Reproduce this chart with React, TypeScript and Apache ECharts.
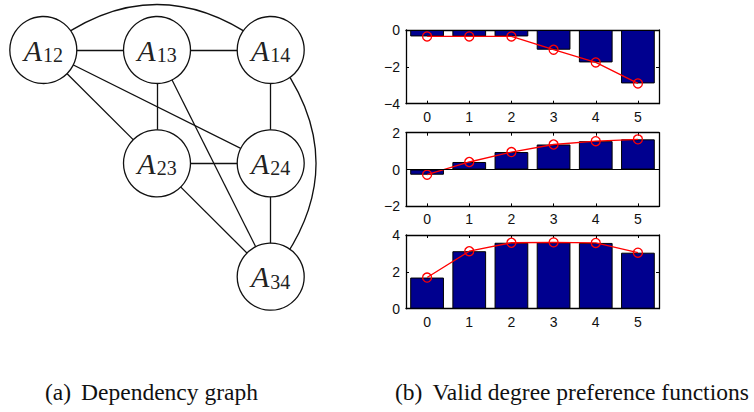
import React, { useEffect, useRef } from "react";
import * as echarts from "echarts";

// Degree preference values (three panels), degrees 0..5
const degrees = ["0", "1", "2", "3", "4", "5"];
const prefTop = [-0.35, -0.35, -0.35, -1.07, -1.76, -2.9];
const prefMid = [-0.28, 0.41, 0.95, 1.36, 1.54, 1.64];
const prefBottom = [1.69, 3.12, 3.58, 3.6, 3.57, 3.04];
const panelRanges = [
  [-4, 0],
  [-2, 2],
  [0, 4],
];

// Dependency graph: nodes on a 3x3 lattice (column, row)
const nodeNames = ["A12", "A13", "A14", "A23", "A24", "A34"];
const nodeCols = [0, 1, 2, 1, 2, 2];
const nodeRows = [0, 0, 0, 1, 1, 2];
const straightEdges = [
  ["A12", "A13"],
  ["A13", "A14"],
  ["A12", "A23"],
  ["A12", "A24"],
  ["A13", "A23"],
  ["A13", "A34"],
  ["A14", "A24"],
  ["A23", "A24"],
  ["A23", "A34"],
  ["A24", "A34"],
];
const curvedEdges = [
  ["A12", "A14"],
  ["A14", "A34"],
];

const captionA = ["(a)", "Dependency graph"];
const captionB = ["(b)", "Valid degree preference functions"];

const SANS = "'Liberation Sans', Arial, Helvetica, sans-serif";
const SERIF = "'Liberation Serif', 'Times New Roman', serif";
const BAR_BLUE = "#00008f";
const RED = "#ff0000";

const PANEL_LEFT = 406;
const PANEL_WIDTH = 253;
const PANEL_TOPS = [30, 132.7, 235];
const PANEL_HEIGHT = 73.7;

function minusSign(v: number) {
  return String(v).replace("-", "\u2212");
}

const tickStyle = () => ({
  show: true,
  inside: true,
  length: 3,
  lineStyle: { color: "#000", width: 1 },
});
const axisLineStyle = () => ({
  show: true,
  onZero: false,
  lineStyle: { color: "#000", width: 1.3 },
});

function buildOption() {
  const grids: any[] = [
    // graph canvas
    { left: 43.3, top: 50, width: 227.4, height: 226.7, show: false },
  ];
  const xAxes: any[] = [
    { gridIndex: 0, type: "value", min: 0, max: 2, show: false },
  ];
  const yAxes: any[] = [
    { gridIndex: 0, type: "value", min: 0, max: 2, inverse: true, show: false },
  ];

  const nodeData = nodeNames.map((n, i) => ({
    name: n,
    value: [nodeCols[i], nodeRows[i]],
  }));

  const series: any[] = [
    {
      type: "graph",
      coordinateSystem: "cartesian2d",
      xAxisIndex: 0,
      yAxisIndex: 0,
      symbol: "none",
      symbolSize: 0,
      silent: true,
      z: 2,
      label: { show: false },
      data: nodeData,
      links: [
        ...straightEdges.map(([s, t]) => ({ source: s, target: t })),
        ...curvedEdges.map(([s, t]) => ({
          source: s,
          target: t,
          lineStyle: { curveness: 0.4 },
        })),
      ],
      lineStyle: { color: "#111", width: 1.3, opacity: 1, curveness: 0 },
    },
    {
      type: "scatter",
      xAxisIndex: 0,
      yAxisIndex: 0,
      z: 5,
      silent: true,
      symbol: "circle",
      symbolSize: 67,
      itemStyle: { color: "#fff", borderColor: "#111", borderWidth: 1.3, opacity: 1 },
      data: nodeData,
      label: {
        show: true,
        position: "inside",
        formatter: (p: any) => `{a|${p.name.charAt(0)}}{s|${p.name.slice(1)}}`,
        rich: {
          a: {
            fontFamily: SERIF,
            fontStyle: "italic",
            fontSize: 30,
            color: "#222",
            padding: [0, 1, 0, 0],
          },
          s: {
            fontFamily: SERIF,
            fontSize: 20,
            color: "#222",
            padding: [10, 0, 0, 0],
          },
        },
      },
    },
  ];

  const panels = [prefTop, prefMid, prefBottom];
  panels.forEach((values, k) => {
    const g = k + 1;
    grids.push({
      left: PANEL_LEFT,
      top: PANEL_TOPS[k],
      width: PANEL_WIDTH,
      height: PANEL_HEIGHT,
      show: false,
    });
    const [ymin, ymax] = panelRanges[k];
    const xBase = k * 2 + 1;
    const yBase = k * 2 + 1;
    xAxes.push(
      {
        gridIndex: g,
        type: "category",
        data: degrees,
        position: "bottom",
        axisLine: axisLineStyle(),
        axisTick: { ...tickStyle(), alignWithLabel: true },
        axisLabel: { color: "#111", fontFamily: SANS, fontSize: 14, margin: 6 },
        splitLine: { show: false },
      },
      {
        gridIndex: g,
        type: "category",
        data: degrees,
        position: "top",
        axisLine: axisLineStyle(),
        axisTick: { ...tickStyle(), alignWithLabel: true },
        axisLabel: { show: false },
        splitLine: { show: false },
      }
    );
    yAxes.push(
      {
        gridIndex: g,
        type: "value",
        min: ymin,
        max: ymax,
        interval: 2,
        position: "left",
        axisLine: axisLineStyle(),
        axisTick: tickStyle(),
        axisLabel: {
          color: "#111",
          fontFamily: SANS,
          fontSize: 14,
          margin: 6,
          formatter: minusSign,
        },
        splitLine: { show: false },
      },
      {
        gridIndex: g,
        type: "value",
        min: ymin,
        max: ymax,
        interval: 2,
        position: "right",
        axisLine: axisLineStyle(),
        axisTick: tickStyle(),
        axisLabel: { show: false },
        splitLine: { show: false },
      }
    );
    series.push(
      {
        type: "bar",
        xAxisIndex: xBase,
        yAxisIndex: yBase,
        data: values,
        barWidth: "80%",
        silent: true,
        z: 2,
        itemStyle: { color: BAR_BLUE, borderColor: "#000", borderWidth: 1 },
        markLine:
          ymin < 0 && ymax > 0
            ? {
                silent: true,
                symbol: ["none", "none"],
                label: { show: false },
                lineStyle: { color: "#000", type: "solid", width: 1 },
                data: [{ yAxis: 0 }],
              }
            : undefined,
      },
      {
        type: "line",
        xAxisIndex: xBase,
        yAxisIndex: yBase,
        data: values,
        silent: true,
        z: 4,
        symbol: "circle",
        symbolSize: 9,
        showSymbol: true,
        itemStyle: { color: "rgba(0,0,0,0)", borderColor: RED, borderWidth: 1.3 },
        lineStyle: { color: RED, width: 1.3 },
      }
    );
  });

  const captionStyle = {
    fontFamily: SERIF,
    fontSize: 23.5,
    fontWeight: "normal",
    color: "#111",
  };
  const caption = (parts: string[], left: number) => ({
    text: `{l|${parts[0]}}{t|${parts[1]}}`,
    left,
    top: 380,
    padding: 0,
    textStyle: {
      ...captionStyle,
      rich: {
        l: { ...captionStyle },
        t: { ...captionStyle, padding: [0, 0, 0, 10] },
      },
    },
  });

  return {
    animation: false,
    backgroundColor: "#fff",
    title: [caption(captionA, 45), caption(captionB, 395)],
    grid: grids,
    xAxis: xAxes,
    yAxis: yAxes,
    series,
  };
}

export default function App() {
  const ref = useRef<HTMLDivElement>(null);
  useEffect(() => {
    if (!ref.current) return;
    const chart = echarts.init(ref.current, undefined, { renderer: "svg" });
    chart.setOption(buildOption() as any);
    return () => chart.dispose();
  }, []);
  return (
    <div
      ref={ref}
      style={{ position: "fixed", left: 0, top: 0, width: 754, height: 412 }}
    />
  );
}
